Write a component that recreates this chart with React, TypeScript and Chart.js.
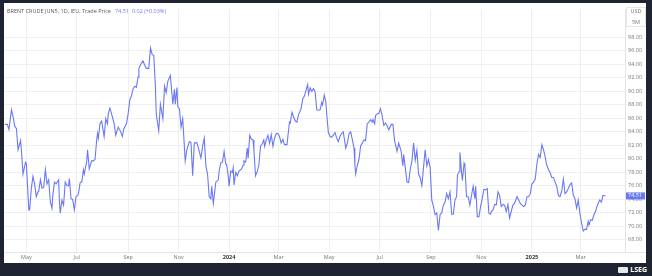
import React, { useEffect, useRef } from "react";
import { Chart, registerables } from "chart.js";
Chart.register(...registerables);

const FONT = "'Open Sans', 'Noto Sans', sans-serif";
const BLUE = "#6a78f6";

const headerLabel = "BRENT CRUDE JUN5, 1D, IEU, Trade Price";
const lastPrice = 74.51;
const changeText = "0.02 (+0.03%)";
const currencyLabels = ["USD", "5M"];

const dates = [
  "2023-04-05","2023-04-08","2023-04-10","2023-04-13","2023-04-15","2023-04-17","2023-04-19","2023-04-21","2023-04-24","2023-04-25",
  "2023-04-27","2023-04-30","2023-05-01","2023-05-04","2023-05-05","2023-05-07","2023-05-09","2023-05-11","2023-05-13","2023-05-15",
  "2023-05-16","2023-05-18","2023-05-20","2023-05-22","2023-05-24","2023-05-26","2023-05-28","2023-05-30","2023-06-01","2023-06-02",
  "2023-06-04","2023-06-06","2023-06-09","2023-06-10","2023-06-11","2023-06-13","2023-06-15","2023-06-17","2023-06-19","2023-06-21",
  "2023-06-22","2023-06-24","2023-06-26","2023-06-28","2023-06-30","2023-07-02","2023-07-03","2023-07-05","2023-07-07","2023-07-09",
  "2023-07-10","2023-07-13","2023-07-14","2023-07-16","2023-07-19","2023-07-21","2023-07-23","2023-07-25","2023-07-26","2023-07-27",
  "2023-07-29","2023-07-31","2023-08-03","2023-08-05","2023-08-07","2023-08-08","2023-08-10","2023-08-12","2023-08-15","2023-08-17",
  "2023-08-20","2023-08-23","2023-08-25","2023-08-27","2023-08-30","2023-09-01","2023-09-03","2023-09-05","2023-09-07","2023-09-09",
  "2023-09-11","2023-09-13","2023-09-14","2023-09-17","2023-09-19","2023-09-21","2023-09-23","2023-09-26","2023-09-28","2023-09-30",
  "2023-10-02","2023-10-04","2023-10-05","2023-10-08","2023-10-10","2023-10-13","2023-10-15","2023-10-17","2023-10-19","2023-10-22",
  "2023-10-23","2023-10-25","2023-10-27","2023-10-28","2023-10-30","2023-10-31","2023-11-02","2023-11-04","2023-11-06","2023-11-09",
  "2023-11-11","2023-11-14","2023-11-16","2023-11-18","2023-11-20","2023-11-23","2023-11-25","2023-11-28","2023-11-30","2023-12-02",
  "2023-12-04","2023-12-06","2023-12-08","2023-12-10","2023-12-11","2023-12-13","2023-12-16","2023-12-19","2023-12-20","2023-12-22",
  "2023-12-24","2023-12-26","2023-12-28","2023-12-29","2023-12-31","2024-01-01","2024-01-03","2024-01-05","2024-01-06","2024-01-07",
  "2024-01-09","2024-01-11","2024-01-13","2024-01-16","2024-01-18","2024-01-19","2024-01-21","2024-01-23","2024-01-24","2024-01-26",
  "2024-01-28","2024-01-30","2024-01-31","2024-02-02","2024-02-04","2024-02-06","2024-02-08","2024-02-10","2024-02-12","2024-02-13",
  "2024-02-15","2024-02-17","2024-02-19","2024-02-21","2024-02-23","2024-02-25","2024-02-27","2024-02-29","2024-03-02","2024-03-04",
  "2024-03-06","2024-03-08","2024-03-11","2024-03-14","2024-03-15","2024-03-17","2024-03-19","2024-03-21","2024-03-23","2024-03-25",
  "2024-03-28","2024-03-30","2024-04-01","2024-04-03","2024-04-05","2024-04-06","2024-04-08","2024-04-10","2024-04-12","2024-04-14",
  "2024-04-16","2024-04-18","2024-04-20","2024-04-22","2024-04-23","2024-04-25","2024-04-27","2024-04-28","2024-04-30","2024-05-02",
  "2024-05-04","2024-05-06","2024-05-08","2024-05-10","2024-05-12","2024-05-14","2024-05-16","2024-05-18","2024-05-19","2024-05-21",
  "2024-05-23","2024-05-25","2024-05-27","2024-05-29","2024-05-31","2024-06-01","2024-06-02","2024-06-04","2024-06-06","2024-06-08",
  "2024-06-10","2024-06-12","2024-06-14","2024-06-16","2024-06-18","2024-06-20","2024-06-22","2024-06-23","2024-06-25","2024-06-26",
  "2024-06-28","2024-06-30","2024-07-02","2024-07-04","2024-07-06","2024-07-08","2024-07-10","2024-07-12","2024-07-15","2024-07-17",
  "2024-07-19","2024-07-22","2024-07-24","2024-07-27","2024-07-29","2024-07-30","2024-08-01","2024-08-03","2024-08-05","2024-08-07",
  "2024-08-09","2024-08-11","2024-08-13","2024-08-15","2024-08-17","2024-08-19","2024-08-21","2024-08-23","2024-08-25","2024-08-27",
  "2024-08-29","2024-08-31","2024-09-02","2024-09-04","2024-09-06","2024-09-08","2024-09-10","2024-09-12","2024-09-14","2024-09-16",
  "2024-09-18","2024-09-20","2024-09-22","2024-09-24","2024-09-26","2024-09-28","2024-09-30","2024-10-02","2024-10-03","2024-10-05",
  "2024-10-06","2024-10-08","2024-10-09","2024-10-11","2024-10-12","2024-10-14","2024-10-16","2024-10-18","2024-10-20","2024-10-22",
  "2024-10-24","2024-10-25","2024-10-27","2024-10-29","2024-10-31","2024-11-02","2024-11-04","2024-11-06","2024-11-08","2024-11-10",
  "2024-11-12","2024-11-13","2024-11-15","2024-11-17","2024-11-19","2024-11-21","2024-11-23","2024-11-25","2024-11-27","2024-11-29",
  "2024-12-01","2024-12-03","2024-12-05","2024-12-07","2024-12-09","2024-12-11","2024-12-14","2024-12-16","2024-12-18","2024-12-20",
  "2024-12-22","2024-12-24","2024-12-26","2024-12-28","2024-12-30","2025-01-01","2025-01-03","2025-01-05","2025-01-07","2025-01-09",
  "2025-01-11","2025-01-13","2025-01-15","2025-01-17","2025-01-19","2025-01-21","2025-01-23","2025-01-25","2025-01-27","2025-01-29",
  "2025-01-31","2025-02-02","2025-02-04","2025-02-06","2025-02-08","2025-02-10","2025-02-12","2025-02-14","2025-02-16","2025-02-18",
  "2025-02-20","2025-02-22","2025-02-24","2025-02-26","2025-02-28","2025-03-02","2025-03-04","2025-03-06","2025-03-08","2025-03-10",
  "2025-03-11","2025-03-13","2025-03-15","2025-03-17","2025-03-19","2025-03-20","2025-03-22","2025-03-24","2025-03-26","2025-03-28",
  "2025-03-31"
];

const prices = [
  85.1,85.1,84.35,87.25,86.2,84.8,84.5,81.35,82.7,81.35,
  77.75,79.5,79.3,72.45,72.45,75.6,77.4,76.3,74.4,75.1,
  75.2,76.9,75.65,75.8,78.4,76.3,76.9,73.65,72.7,74.6,
  76.55,76.3,76.9,73.65,71.95,73.9,73.15,76.55,76.05,76.0,
  77.1,74.1,74.0,72.45,74.4,74.6,74.85,76.45,76.6,78.4,
  77.75,79.7,81.35,78.5,79.7,79.7,79.9,82.8,83.75,83.05,
  85.2,85.6,83.3,85.95,85.2,86.65,87.5,86.65,85.3,83.5,
  84.7,84.0,83.3,84.5,85.2,86.65,88.7,89.3,90.4,90.75,
  90.6,92.1,93.4,94.15,94.5,93.9,93.4,93.4,96.4,95.45,
  95.3,90.75,86.65,84.15,88.1,85.95,90.75,89.8,91.5,92.35,
  91.0,88.1,90.3,88.1,90.55,87.7,87.4,84.7,85.95,79.7,
  81.35,82.55,82.4,77.5,82.35,82.4,81.6,80.15,81.85,83.05,
  78.95,77.75,74.4,74.1,75.95,73.4,76.55,76.9,78.2,79.4,
  79.5,81.1,79.2,79.2,77.5,75.95,78.2,78.0,78.7,76.15,
  78.0,77.5,78.2,78.5,79.05,79.7,79.5,81.6,80.1,83.5,
  82.9,82.8,81.35,77.5,78.1,79.05,81.9,82.2,82.8,81.85,
  82.8,83.5,82.3,83.6,81.85,83.05,83.75,83.75,83.3,82.35,
  82.9,82.1,82.1,85.45,85.3,86.9,86.2,85.6,85.45,86.55,
  87.4,88.85,89.3,90.15,91.0,89.55,90.5,90.0,90.4,89.9,
  87.25,87.2,87.25,88.35,88.0,89.45,88.35,86.65,83.9,83.3,
  83.2,83.5,83.9,83.1,82.55,83.3,83.75,84.0,83.2,81.6,
  82.35,83.75,84.0,82.8,81.6,79.2,77.75,79.05,79.9,81.9,
  82.35,82.8,82.7,85.2,85.45,85.8,85.45,85.8,85.2,86.4,
  86.65,86.75,87.4,86.4,84.95,85.3,84.9,84.3,85.1,85.1,
  82.7,81.1,82.35,81.1,78.95,80.65,78.7,76.55,76.5,78.5,
  79.7,82.35,79.8,81.25,77.75,77.2,76.05,78.7,81.35,78.95,
  79.9,78.7,73.9,72.95,71.75,72.0,69.4,71.75,72.0,73.15,
  73.6,74.85,74.1,75.1,71.8,71.8,73.9,74.4,77.6,78.1,
  80.95,78.0,76.8,79.35,79.0,74.4,74.4,73.15,74.6,75.95,
  74.1,75.95,71.45,71.45,72.95,74.1,75.5,75.4,75.6,71.95,
  71.8,72.2,72.45,73.25,73.2,75.1,74.6,72.95,73.25,73.15,
  72.2,73.25,71.25,72.2,73.15,73.4,74.4,73.9,73.4,73.15,
  72.95,73.15,74.4,74.4,74.85,76.3,76.55,77.0,79.2,80.65,
  80.2,82.1,81.35,80.3,79.05,78.4,78.0,77.25,77.25,76.55,
  75.95,74.6,74.4,75.2,77.0,74.85,75.1,75.6,76.2,76.45,
  74.6,74.1,72.7,73.9,71.95,70.5,69.3,69.6,69.55,70.75,
  70.2,71.0,70.9,71.75,72.2,72.7,73.4,73.9,73.6,74.6,
  74.51
];

const monthTicks = [
  "2023-05-01","2023-07-01","2023-09-01","2023-11-01","2024-01-01","2024-03-01",
  "2024-05-01","2024-07-01","2024-09-01","2024-11-01","2025-01-01","2025-03-01"
];
const monthLabels = ["May","Jul","Sep","Nov","2024","Mar","May","Jul","Sep","Nov","2025","Mar"];
const yearLabels = ["2024", "2025"];
const priceTicks = [68,70,72,74,76,78,80,82,84,86,88,90,92,94,96,98];

const BASE = Date.UTC(2023, 4, 1);
const toDay = (s: string) => (Date.parse(s) - BASE) / 86400000;

const overlayPlugin = {
  id: "overlay",
  afterDraw(chart: any) {
    const { ctx, chartArea, scales, width } = chart;
    ctx.save();
    ctx.strokeStyle = "#e4e4e4";
    ctx.lineWidth = 1;
    ctx.beginPath();
    ctx.moveTo(0, Math.round(chartArea.bottom) + 0.5);
    ctx.lineTo(width, Math.round(chartArea.bottom) + 0.5);
    ctx.stroke();

    ctx.textBaseline = "middle";
    ctx.textAlign = "left";
    ctx.font = `5.5px ${FONT}`;
    let x = 3;
    const hy = 8.5;
    ctx.fillStyle = "#5a5a5a";
    ctx.fillText(headerLabel, x, hy);
    x += ctx.measureText(headerLabel).width + 4;
    ctx.fillStyle = BLUE;
    const lp = lastPrice.toFixed(2);
    ctx.fillText(lp, x, hy);
    x += ctx.measureText(lp).width + 3;
    ctx.fillText(changeText, x, hy);

    // currency box
    const bx = chartArea.right + 1;
    ctx.strokeStyle = "#e6e6e6";
    ctx.strokeRect(bx + 0.5, 4.5, width - bx - 1, 19);
    ctx.fillStyle = "#777";
    ctx.textAlign = "center";
    const cx = (bx + width) / 2;
    ctx.fillText(currencyLabels[0], cx, 8);
    ctx.fillText(currencyLabels[1], cx, 19.3);

    // last price tag
    const py = scales.y.getPixelForValue(lastPrice);
    ctx.fillStyle = BLUE;
    ctx.fillRect(chartArea.right + 1, py - 3.5, width - chartArea.right - 2, 7);
    ctx.fillStyle = "#ffffff";
    ctx.textAlign = "left";
    ctx.fillText(lp, chartArea.right + 3, py);
    ctx.restore();
  },
};

export default function App() {
  const ref = useRef<HTMLCanvasElement | null>(null);

  useEffect(() => {
    document.body.style.margin = "0";
    const canvas = ref.current;
    if (!canvas) return;
    const data = dates.map((d, i) => ({ x: toDay(d), y: prices[i] }));
    const chart = new Chart(canvas, {
      type: "line",
      data: {
        datasets: [
          {
            data,
            borderColor: BLUE,
            borderWidth: 1.1,
            pointRadius: 0,
            tension: 0,
            fill: false,
          },
        ],
      },
      plugins: [overlayPlugin],
      options: {
        animation: false,
        responsive: false,
        devicePixelRatio: 1,
        events: [],
        layout: { padding: { top: 0, left: 0, right: 0, bottom: 0 } },
        plugins: { legend: { display: false }, tooltip: { enabled: false } },
        scales: {
          x: {
            type: "linear",
            min: -27,
            max: 723.5,
            afterBuildTicks: (scale: any) => {
              scale.ticks = monthTicks.map((m) => ({ value: toDay(m) }));
            },
            afterFit: (scale: any) => {
              scale.height = 11;
            },
            grid: { color: "#efefef", drawTicks: false },
            border: { display: false },
            ticks: {
              autoSkip: false,
              maxRotation: 0,
              padding: 2,
              callback: (_v: any, i: number) => monthLabels[i],
              color: (c: any) => (yearLabels.includes(monthLabels[c.index]) ? "#333" : "#777"),
              font: (c: any) => ({
                family: FONT,
                size: 5.5,
                weight: yearLabels.includes(monthLabels[c.index]) ? "bold" : "normal",
              }),
            },
          },
          y: {
            type: "linear",
            position: "right",
            min: 66.21,
            max: 102.14,
            afterBuildTicks: (scale: any) => {
              scale.ticks = priceTicks.map((v) => ({ value: v }));
            },
            afterFit: (scale: any) => {
              scale.width = 21;
            },
            grid: { color: "#efefef", drawTicks: false },
            border: { display: true, color: "#e4e4e4" },
            ticks: {
              padding: 3,
              color: "#777",
              font: { family: FONT, size: 5.5 },
              callback: (v: any) => Number(v).toFixed(2),
            },
          },
        },
      },
    });
    return () => chart.destroy();
  }, []);

  return (
    <div style={{ position: "relative", width: 652, height: 276, background: "#1d2331", overflow: "hidden" }}>
      <div style={{ position: "absolute", left: 4, top: 3, width: 642, height: 260, background: "#ffffff" }}>
        <canvas ref={ref} width={642} height={260} style={{ display: "block", width: 642, height: 260 }} />
      </div>
      <div
        style={{
          position: "absolute",
          right: 5,
          top: 265,
          height: 10,
          display: "flex",
          alignItems: "center",
          gap: 2,
          color: "#ffffff",
          fontFamily: FONT,
          fontWeight: 700,
          fontSize: 7,
          lineHeight: "10px",
        }}
      >
        <span style={{ display: "inline-block", width: 10, height: 6, background: "#e8e8e8", borderRadius: 1 }} />
        <span>LSEG</span>
      </div>
    </div>
  );
}
